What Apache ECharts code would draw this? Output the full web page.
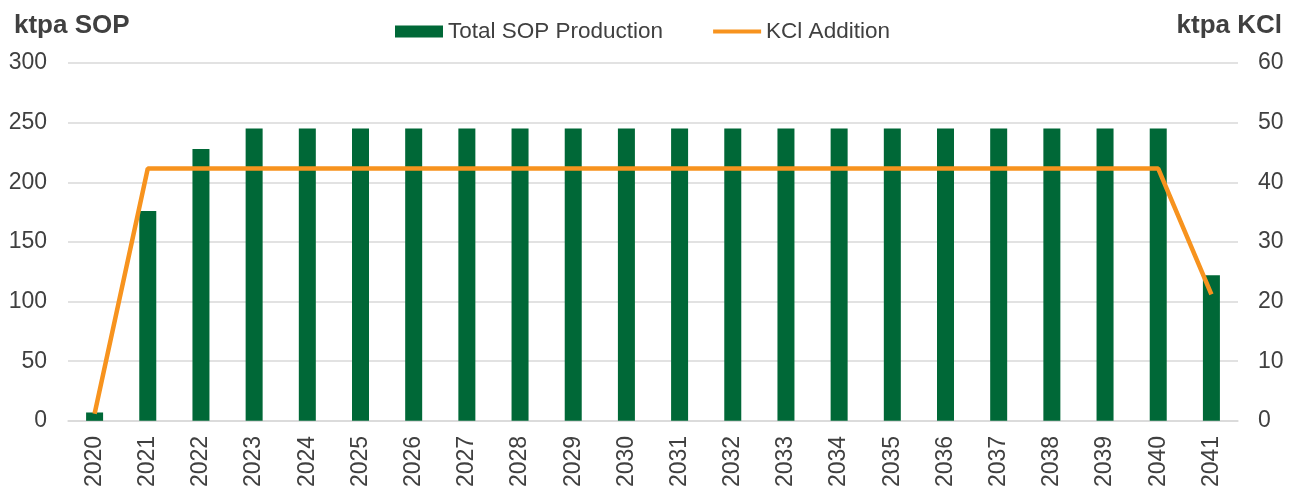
<!DOCTYPE html>
<html>
<head>
<meta charset="utf-8">
<script src="https://cdn.jsdelivr.net/npm/echarts@6/dist/echarts.min.js"></script>
<style>
  html, body { margin: 0; padding: 0; background: #fff; }
  #chart { width: 1296px; height: 490px; }
</style>
</head>
<body>
<div id="chart"></div>
<script>
// data
const years = ["2020", "2021", "2022", "2023", "2024", "2025", "2026", "2027", "2028", "2029", "2030",
  "2031", "2032", "2033", "2034", "2035", "2036", "2037", "2038", "2039", "2040", "2041"];
const sopProduction = [7, 176, 228, 245, 245, 245, 245, 245, 245, 245, 245,
  245, 245, 245, 245, 245, 245, 245, 245, 245, 245, 122];
const kclAddition = [1.2, 42.3, 42.3, 42.3, 42.3, 42.3, 42.3, 42.3, 42.3, 42.3, 42.3,
  42.3, 42.3, 42.3, 42.3, 42.3, 42.3, 42.3, 42.3, 42.3, 42.3, 21.2];

const font = "Liberation Sans, Arial, sans-serif";
const textColor = "#404040";

const chart = echarts.init(document.getElementById("chart"));
chart.setOption({
  animation: false,
  textStyle: { fontFamily: font },
  title: [
    { text: "ktpa SOP", left: 9, top: 8,
      textStyle: { fontSize: 26, fontWeight: "bold", color: textColor, fontFamily: font } },
    { text: "ktpa KCl", right: 9, top: 8,
      textStyle: { fontSize: 26, fontWeight: "bold", color: textColor, fontFamily: font } }
  ],
  legend: {
    top: 15,
    left: 390,
    itemGap: 50,
    itemWidth: 48,
    itemHeight: 12,
    textStyle: { fontSize: 22.5, color: textColor, fontFamily: font },
    data: [
      { name: "Total SOP Production", icon: "rect" },
      { name: "KCl Addition", icon: "path://M0,0 L50,0 L50,4 L0,4 Z" }
    ]
  },
  grid: { left: 68, right: 58, top: 63, bottom: 68 },
  xAxis: {
    type: "category",
    data: years,
    axisTick: { show: false },
    axisLine: { lineStyle: { color: "#d9d9d9", width: 1.5 } },
    axisLabel: { rotate: 90, fontSize: 23, color: textColor, margin: 15 }
  },
  yAxis: [
    {
      type: "value", min: 0, max: 300, interval: 50,
      axisLabel: { fontSize: 23, color: textColor, margin: 21 },
      splitLine: { lineStyle: { color: "#d9d9d9", width: 1.5 } }
    },
    {
      type: "value", min: 0, max: 60, interval: 10,
      axisLabel: { fontSize: 23, color: textColor, margin: 20 },
      splitLine: { show: false }
    }
  ],
  series: [
    {
      name: "Total SOP Production",
      type: "bar",
      data: sopProduction,
      barWidth: 17,
      itemStyle: { color: "#006837" }
    },
    {
      name: "KCl Addition",
      type: "line",
      yAxisIndex: 1,
      data: kclAddition,
      symbol: "none",
      lineStyle: { color: "#F7931E", width: 4.5 },
      itemStyle: { color: "#F7931E" }
    }
  ]
});
</script>
</body>
</html>
